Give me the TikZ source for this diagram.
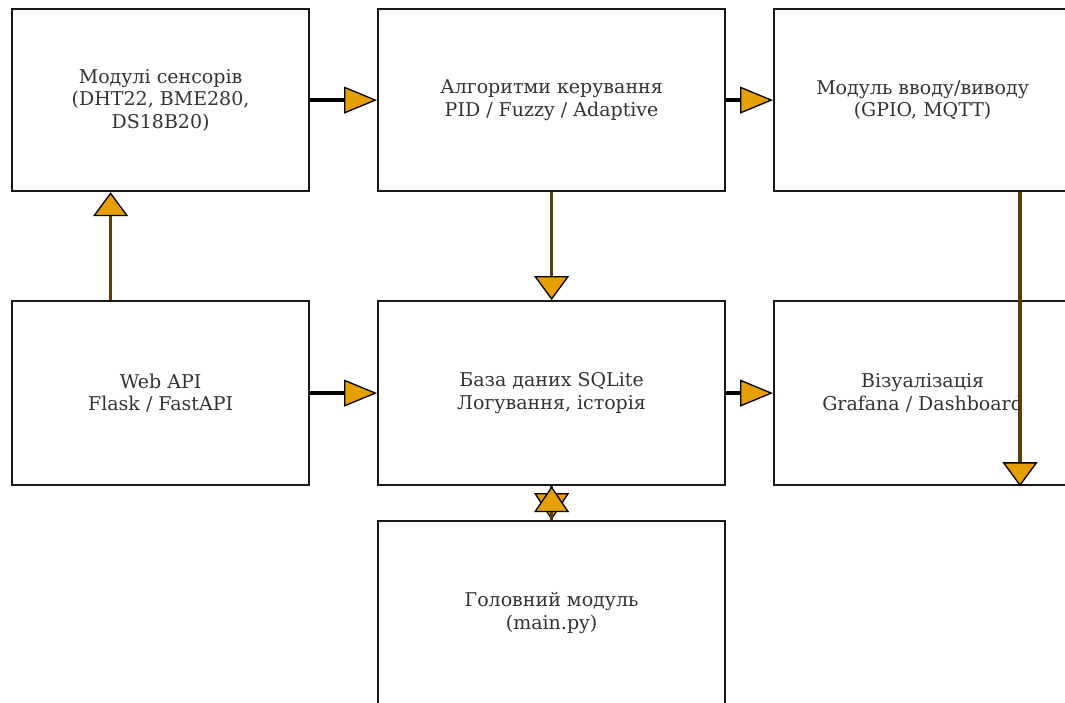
\documentclass[tikz,border=0pt]{standalone}
\usepackage{fontspec}
\setmainfont{DejaVu Serif}
\usetikzlibrary{arrows.meta,calc}
\definecolor{ora}{HTML}{E69F00}
\definecolor{shaft}{HTML}{5A3E08}
\definecolor{txt}{HTML}{333333}
\tikzset{
  blk/.style={draw=black!90, line width=2.2pt, fill=white, anchor=north west, inner sep=0pt,
    text=txt, font=\fontsize{19}{22.5}\selectfont, align=center},
  harr/.style={line width=3.8pt, draw=black, -{Triangle[length=33pt,width=27pt,fill=ora,color=black,line width=1.3pt]}},
  varr/.style={line width=3.5pt, draw=shaft, -{Triangle[length=24pt,width=35pt,fill=ora,color=black,line width=1.3pt]}},
}
\begin{document}
\begin{tikzpicture}[x=1pt,y=-1pt]
\useasboundingbox (0,0) rectangle (1065,702);
\begin{scope}
\clip (0,0) rectangle (1065,702);
\node[blk, minimum width=297pt, minimum height=182pt] (A) at (11,8) {Модулі сенсорів\\(DHT22, BME280,\\DS18B20)};
\node[blk, minimum width=347pt, minimum height=182pt] (B) at (377,8) {Алгоритми керування\\PID / Fuzzy / Adaptive};
\node[blk, minimum width=297pt, minimum height=182pt] (C) at (773,8) {Модуль вводу/виводу\\(GPIO, MQTT)};
\node[blk, minimum width=297pt, minimum height=184pt] (D) at (11,300) {Web API\\Flask / FastAPI};
\node[blk, minimum width=347pt, minimum height=184pt] (E) at (377,300) {База даних SQLite\\Логування, історія};
\node[blk, minimum width=297pt, minimum height=184pt] (F) at (773,300) {Візуалізація\\Grafana / Dashboard};
\node[blk, minimum width=347pt, minimum height=184pt] (G) at (377,520) {Головний модуль\\(main.py)};
\end{scope}
\draw[harr] (A.east) -- (B.west);
\draw[harr] (B.east) -- (C.west);
\draw[harr] (D.east) -- (E.west);
\draw[harr] (E.east) -- (F.west);
\draw[varr] ($(D.north)+(-50,0)$) -- ($(A.south)+(-50,0)$);
\draw[varr] (B.south) -- (E.north);
\coordinate (cx) at (1020,0);
\draw[varr] (C.south -| cx) -- (F.south -| cx);
\draw[varr,-{Triangle[length=27pt,width=35pt,fill=ora,color=black,line width=1.3pt]}] (E.south) -- (G.north);
\draw[varr,-{Triangle[length=26pt,width=35pt,fill=ora,color=black,line width=1.3pt]}] (G.north) -- (E.south);
\end{tikzpicture}
\end{document}
